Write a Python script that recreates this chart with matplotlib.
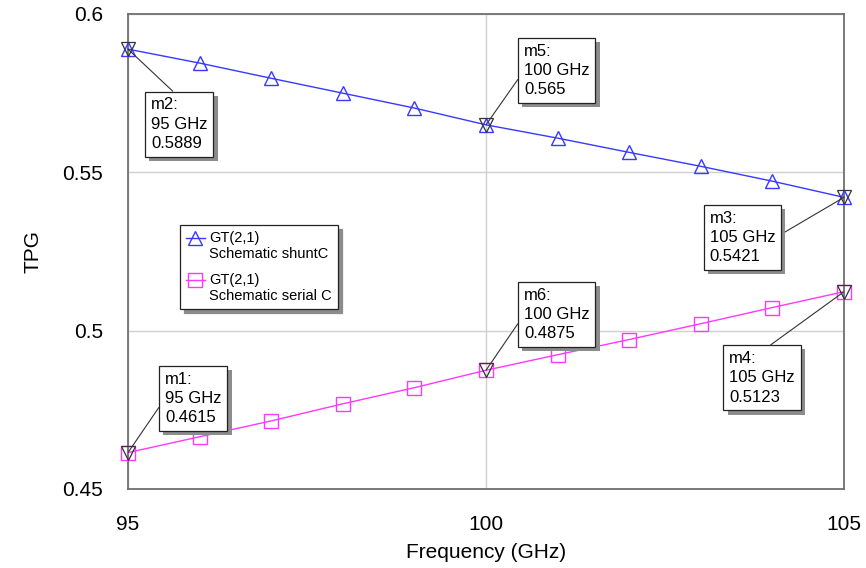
import matplotlib
matplotlib.use('Agg')
import matplotlib.pyplot as plt
import matplotlib.patheffects as pe
from matplotlib.legend_handler import HandlerLine2D

plt.rcParams['font.family'] = ['Liberation Sans', 'DejaVu Sans']

# Data
freq = [95, 96, 97, 98, 99, 100, 101, 102, 103, 104, 105]
tpg_shunt = [0.5889, 0.5845, 0.5797, 0.5750, 0.5703, 0.5650,
             0.5608, 0.5563, 0.5519, 0.5472, 0.5421]
tpg_serial = [0.4615, 0.4665, 0.4715, 0.4769, 0.4820, 0.4875,
              0.4924, 0.4972, 0.5022, 0.5073, 0.5123]

# markers: name, series, index into freq, text offset (points), connector attach point
markers = [
    ('m1', 'serial', 0, (47, 39), (0.0, 0.5)),
    ('m2', 'shunt', 0, (37, -54), (0.5, 1.0)),
    ('m3', 'shunt', 10, (-73, -29), (1.0, 0.5)),
    ('m4', 'serial', 10, (-59, -62), (0.5, 1.0)),
    ('m5', 'shunt', 5, (51, 39), (0.0, 0.5)),
    ('m6', 'serial', 5, (51, 40), (0.0, 0.5)),
]
series = {'shunt': tpg_shunt, 'serial': tpg_serial}

fig = plt.figure(figsize=(8.66, 5.68), dpi=100)
ax = fig.add_axes([128/866, 79/568, 716/866, 475/568])

ax.plot(freq, tpg_shunt, color='#3838ff', lw=1, marker='^', ms=10,
        mfc='none', mec='#3838ff', mew=1, clip_on=False, zorder=3,
        label='GT(2,1)\nSchematic shuntC')
ax.plot(freq, tpg_serial, color='#ff38ff', lw=1, marker='s', ms=9.5,
        mfc='none', mec='#ff38ff', mew=1, clip_on=False, zorder=3,
        label='GT(2,1)\nSchematic serial C')

# marker annotations
for name, key, idx, off, rel in markers:
    x = freq[idx]
    y = series[key][idx]
    ax.plot([x], [y], marker='v', ms=10, mfc='none', mec='#333333',
            mew=0.9, ls='none', clip_on=False, zorder=4)
    ann = ax.annotate(f'{name}:\n{x} GHz\n{y:.4g}', xy=(x, y), xytext=off,
                      textcoords='offset points', ha='center', va='center',
                      multialignment='left', fontsize=12, linespacing=1.35,
                      zorder=6,
                      bbox=dict(boxstyle='square,pad=0.35', fc='white',
                                ec='#222222', lw=0.9),
                      arrowprops=dict(arrowstyle='-', color='#333333', lw=0.8,
                                      shrinkA=0, shrinkB=0, relpos=rel))
    ann.get_bbox_patch().set_path_effects(
        [pe.withSimplePatchShadow(offset=(3, -3), shadow_rgbFace='0.55', alpha=1)])


class TopHandler(HandlerLine2D):
    # put the legend handle next to the first line of a two line label
    def create_artists(self, legend, orig_handle, xdescent, ydescent,
                       width, height, fontsize, trans):
        arts = super().create_artists(legend, orig_handle, xdescent, ydescent,
                                      width, height, fontsize, trans)
        for a in arts:
            a.set_ydata([v + 0.55 * fontsize for v in a.get_ydata()])
        return arts


leg = ax.legend(loc='upper left', bbox_to_anchor=((180-128)/716, (489-225)/475),
                borderaxespad=0, fontsize=10.5, handlelength=1.3,
                handletextpad=0.3, labelspacing=0.8, fancybox=False,
                edgecolor='#222222', framealpha=1,
                shadow={'ox': 3, 'oy': -3, 'color': '0.55', 'alpha': 1},
                handler_map={matplotlib.lines.Line2D: TopHandler(numpoints=1)})
leg.get_frame().set_linewidth(0.9)

ax.set_xlim(95, 105)
ax.set_ylim(0.45, 0.6)
ax.set_xticks([95, 100, 105])
ax.set_yticks([0.45, 0.5, 0.55, 0.6])
ax.set_yticklabels(['0.45', '0.5', '0.55', '0.6'])
ax.tick_params(axis='y', length=0, pad=18, labelsize=15)
ax.tick_params(axis='x', length=0, pad=19, labelsize=15)
ax.grid(True, color='#d0d0d0', lw=1)
ax.set_axisbelow(True)
for s in ax.spines.values():
    s.set_color('#707070')
    s.set_linewidth(1.3)

ax.set_xlabel('Frequency (GHz)', fontsize=15, labelpad=6)
ax.set_ylabel('TPG', fontsize=15, labelpad=14)

fig.savefig('out.png', dpi=100)
